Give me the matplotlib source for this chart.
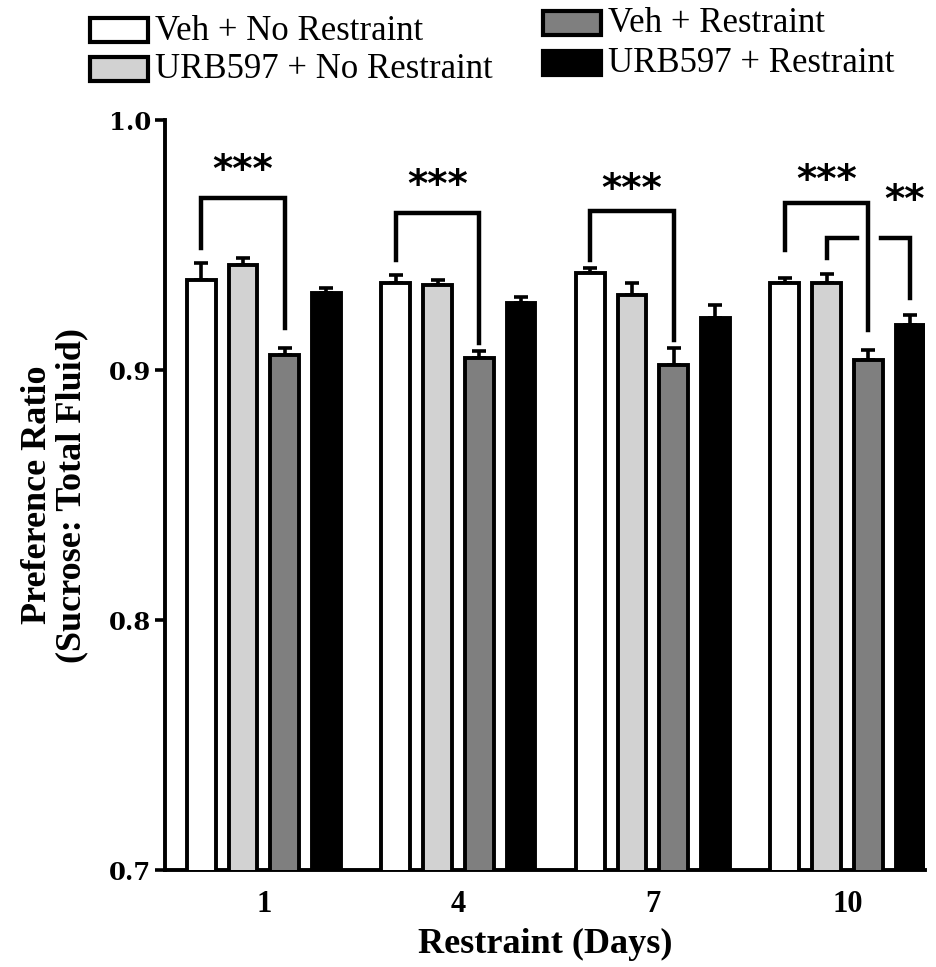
import matplotlib
matplotlib.use("Agg")
import matplotlib.pyplot as plt
import numpy as np

days = ["1", "4", "7", "10"]
groups = ["Veh + No Restraint", "URB597 + No Restraint", "Veh + Restraint", "URB597 + Restraint"]
colors = ["#ffffff", "#d2d2d2", "#7f7f7f", "#000000"]

veh_no = [0.936, 0.935, 0.939, 0.935]
urb_no = [0.942, 0.934, 0.930, 0.935]
veh_r = [0.906, 0.905, 0.902, 0.904]
urb_r = [0.931, 0.927, 0.921, 0.918]
means = [veh_no, urb_no, veh_r, urb_r]

err_veh_no = [0.007, 0.003, 0.002, 0.002]
err_urb_no = [0.003, 0.002, 0.005, 0.0035]
err_veh_r = [0.003, 0.0025, 0.007, 0.004]
err_urb_r = [0.002, 0.0024, 0.005, 0.004]
errors = [err_veh_no, err_urb_no, err_veh_r, err_urb_r]

yticks = [0.7, 0.8, 0.9, 1.0]

fig = plt.figure(figsize=(9.37, 9.67), dpi=100)
ax = fig.add_axes([0.176, 0.1003, 0.811, 0.7756])

x = np.arange(len(days))
step = 0.2144
width = 0.148
offsets = (np.arange(4) - 1.5) * step

for k in range(4):
    ax.bar(x + offsets[k], means[k], width, bottom=0, color=colors[k],
           edgecolor="black", linewidth=2.8, zorder=3)
    ax.errorbar(x + offsets[k], means[k], yerr=[np.zeros(4), errors[k]],
                fmt="none", ecolor="black", elinewidth=2.6, capsize=5,
                capthick=2.6, zorder=2)

ax.set_ylim(0.7, 1.0)
ax.set_xlim(-0.509, 3.398)
ax.set_yticks(yticks)
ax.set_yticklabels(["%.1f" % v for v in yticks], fontfamily="DejaVu Serif",
                   fontweight="bold", fontsize=17.5)
ax.set_xticks(x)
ax.set_xticklabels(days, fontfamily="Liberation Serif", fontweight="bold", fontsize=22)
ax.tick_params(axis="y", length=7, width=2.6, pad=3)
ax.tick_params(axis="x", length=0, pad=14.5)
for side in ["top", "right"]:
    ax.spines[side].set_visible(False)
for side in ["left", "bottom"]:
    ax.spines[side].set_linewidth(2.8)

ax.set_xlabel("Restraint (Days)", fontfamily="Liberation Serif", fontweight="bold",
              fontsize=26, labelpad=6)
ax.set_ylabel("Preference Ratio\n(Sucrose: Total Fluid)", fontfamily="Liberation Serif",
              fontweight="bold", fontsize=26, labelpad=15, linespacing=1.05)

# significance brackets: (group, from bar, to bar, top, left leg end, right leg end)
brackets = [
    (0, 0, 2, 0.9688, 0.949, 0.9168),
    (1, 0, 2, 0.9628, 0.944, 0.9108),
    (2, 0, 2, 0.9636, 0.944, 0.912),
    (3, 0, 2, 0.9668, 0.948, 0.916),
]
star_y = [0.9795, 0.9735, 0.972, 0.9755]
lw_br = 3.2
for (g, a, b, top, yl, yr), sy in zip(brackets, star_y):
    xa = g + offsets[a]
    xb = g + offsets[b]
    ax.plot([xa, xa, xb, xb], [yl, top, top, yr], color="black", lw=lw_br,
            solid_joinstyle="miter", zorder=4)
    ax.text((xa + xb) / 2, sy, "***", ha="center", va="center", fontsize=28,
            fontweight="bold", fontfamily="DejaVu Sans", zorder=5)

# day 10: URB597 + No Restraint vs URB597 + Restraint, broken where it crosses
g = 3
xa = g + offsets[1]
xb = g + offsets[3]
xgap_l = g + offsets[2] - 0.06
xgap_r = g + offsets[2] + 0.065
ax.plot([xa, xa, xgap_l], [0.945, 0.9528, 0.9528], color="black", lw=lw_br,
        solid_joinstyle="miter", zorder=4)
ax.plot([xgap_r, xb, xb], [0.9528, 0.9528, 0.9288], color="black", lw=lw_br,
        solid_joinstyle="miter", zorder=4)
ax.text(g + offsets[3] - 0.03, 0.9675, "**", ha="center", va="center", fontsize=28,
        fontweight="bold", fontfamily="DejaVu Sans", zorder=5)

# legend drawn as boxes with labels in figure coordinates
leg_pos = [(90, 30), (90, 69), (543, 23), (543, 63)]
W, H = 937.0, 967.0
for (px, py), lab, col in zip(leg_pos, groups, colors):
    rect = plt.Rectangle((px / W, 1 - (py + 12) / H), 58 / W, 24 / H,
                         facecolor=col, edgecolor="black", linewidth=3.0,
                         transform=fig.transFigure)
    fig.patches.append(rect)
    fig.text((px + 65) / W, 1 - (py + 1) / H, lab, ha="left", va="center",
             fontfamily="Liberation Serif", fontsize=25)

fig.savefig("out.png", dpi=100)
